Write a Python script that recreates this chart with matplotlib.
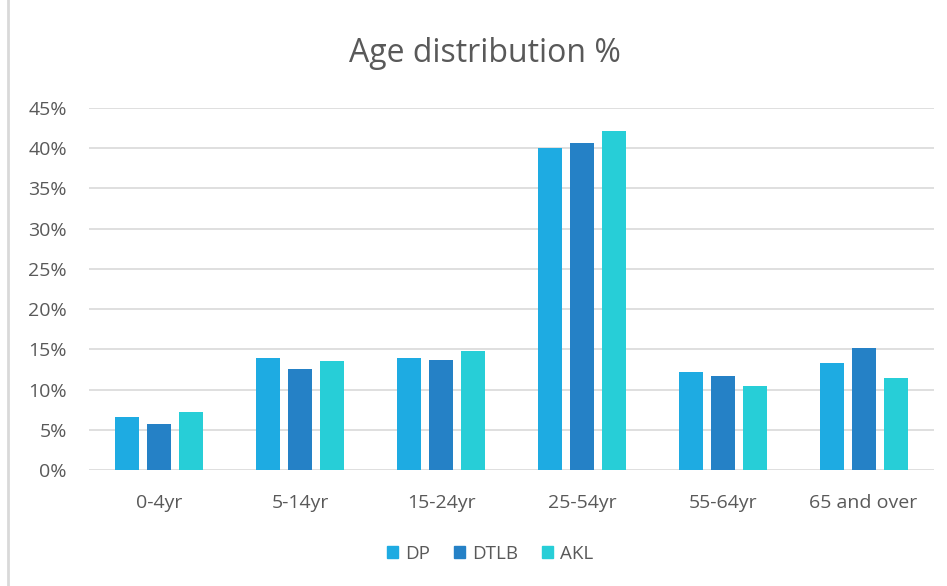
import numpy as np
import matplotlib
matplotlib.use('Agg')
import matplotlib.pyplot as plt
from matplotlib.ticker import PercentFormatter
from matplotlib.lines import Line2D

# Age distribution values (%)
categories = ['0-4yr', '5-14yr', '15-24yr', '25-54yr', '55-64yr', '65 and over']
series_names = ['DP', 'DTLB', 'AKL']
dp = [6.6, 13.9, 13.9, 40.0, 12.2, 13.3]
dtlb = [5.7, 12.6, 13.7, 40.7, 11.7, 15.2]
akl = [7.2, 13.6, 14.8, 42.2, 10.4, 11.4]
yticks = [0, 5, 10, 15, 20, 25, 30, 35, 40, 45]

colors = ['#1EABE2', '#2581C6', '#27CED7']
text_color = '#595959'

plt.rcParams['font.family'] = ['Open Sans', 'DejaVu Sans']

fig = plt.figure(figsize=(9.47, 5.86), dpi=100)
W, H = 947, 586
ax = fig.add_axes([89 / W, (H - 470) / H, (934 - 89) / W, (470 - 108) / H])

x = np.arange(len(categories))
width = 0.17
step = 0.227
for i, (vals, name) in enumerate(zip([dp, dtlb, akl], series_names)):
    ax.bar(x + (i - 1) * step, vals, width, color=colors[i], label=name, zorder=3)

ax.set_xlim(-0.5, len(categories) - 0.5)
ax.set_ylim(0, 45)
ax.set_yticks(yticks)
ax.yaxis.set_major_formatter(PercentFormatter(decimals=0))
ax.set_xticks(x)
ax.set_xticklabels(categories)
ax.grid(axis='y', color='#D9D9D9', linewidth=1.2, zorder=0)
for s in ax.spines.values():
    s.set_visible(False)
ax.tick_params(axis='both', length=0, labelsize=14, colors=text_color)
ax.tick_params(axis='x', pad=17)
ax.tick_params(axis='y', pad=16)

fig.text(485 / W, 1 - 54 / H, 'Age distribution %', ha='center', va='center',
         fontsize=23, color=text_color)

handles = [plt.Rectangle((0, 0), 1, 1, color=c) for c in colors]
fig.legend(handles, series_names, loc='center', bbox_to_anchor=(490 / W, 1 - 554 / H),
           ncol=3, frameon=False, fontsize=13.5, handlelength=0.6, handleheight=0.6,
           handletextpad=0.35, columnspacing=1.3, labelcolor=text_color)

# chart border on the left
fig.add_artist(Line2D([8 / W, 8 / W], [0, 1], color='#D9D9D9', linewidth=2))

fig.savefig('out.png', dpi=100, facecolor='white')
